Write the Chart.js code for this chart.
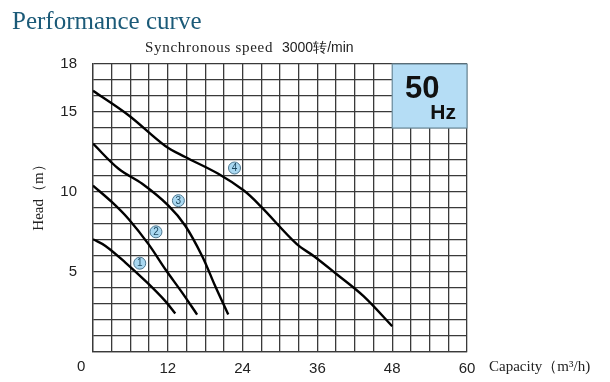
<!DOCTYPE html>
<html>
<head>
<meta charset="utf-8">
<script src="https://cdn.jsdelivr.net/npm/chart.js@4"></script>
<style>
  body { margin: 0; background: #fff; }
  canvas { display: block; }
</style>
</head>
<body>
<canvas id="perfChart" width="610" height="382"></canvas>
<script>
// capacity (m3/h) and head (m)
var q1 = [0, 2, 5.2, 8.7, 11.6, 13.2]
var h1 = [7.05, 6.63, 5.59, 4.33, 3.18, 2.41]
var q2 = [0, 3.05, 5.7, 8.9, 11.6, 14.3, 16.7]
var h2 = [10.4, 9.36, 8.31, 6.74, 5.17, 3.71, 2.34]
var q3 = [0, 4.1, 7.9, 12.1, 14.8, 17.5, 19.6, 21.7]
var h3 = [13.02, 11.45, 10.51, 9.15, 7.89, 6.0, 4.12, 2.34]
var q4 = [0, 5.7, 11.6, 14.8, 20.1, 24.2, 26.8, 32.7, 35.4, 39.1, 43.4, 48.0]
var h4 = [16.33, 14.8, 12.88, 12.19, 11.14, 10.09, 9.15, 6.74, 6.0, 4.86, 3.49, 1.61]

// circled curve numbers
var markQ = [7.5, 10.1, 13.7, 22.7]
var markH = [5.55, 7.51, 9.46, 11.5]
var markText = ['1', '2', '3', '4']

var xLabels = [12, 24, 36, 48, 60]
var yLabels = [5, 10, 15, 18]

function pts(xs, ys){
    var result = []
    for(var i = 0; i < xs.length; i++){
        result.push({x: xs[i], y: ys[i]})
    }
    return result
}

function curve(xs, ys){
    return {
        data: pts(xs, ys),
        showLine: true,
        borderColor: '#000',
        borderWidth: 2.4,
        pointRadius: 0,
        tension: 0.35,
        fill: false
    }
}

var gridColor = '#3a3a3a'
var serif = '"Liberation Serif", "DejaVu Serif", serif'
var sans = '"Liberation Sans", Arial, sans-serif'

var decor = {
    id: 'decor',
    beforeDatasetsDraw: function(chart){
        var c = chart.ctx, x = chart.scales.x, y = chart.scales.y
        var l = x.getPixelForValue(48), r = x.getPixelForValue(60)
        var t = y.getPixelForValue(18), b = y.getPixelForValue(14)
        c.save()
        c.fillStyle = '#b5ddf5'
        c.fillRect(l, t, r - l, b - t)
        c.strokeStyle = '#6f8fa0'
        c.lineWidth = 1.2
        c.strokeRect(l, t, r - l, b - t)
        c.fillStyle = '#111'
        c.textAlign = 'center'
        c.textBaseline = 'middle'
        c.font = 'bold 31px ' + sans
        c.fillText('50', l + 30, t + 25)
        c.font = 'bold 21px ' + sans
        c.fillText('Hz', l + 51, t + 49)
        c.restore()
    },
    afterDatasetsDraw: function(chart){
        var c = chart.ctx
        var meta = chart.getDatasetMeta(4)
        c.save()
        c.fillStyle = '#1d4860'
        c.font = '10px ' + sans
        c.textAlign = 'center'
        c.textBaseline = 'middle'
        meta.data.forEach(function(p, i){
            c.fillText(markText[i], p.x, p.y + 0.5)
        })
        c.restore()
    },
    afterDraw: function(chart){
        var c = chart.ctx
        c.save()
        c.textBaseline = 'middle'
        c.fillStyle = '#1b5a78'
        c.font = '25px ' + serif
        c.fillText('Performance curve', 12, 22)
        c.fillStyle = '#222'
        c.font = '15px ' + serif
        c.letterSpacing = '0.7px'
        c.fillText('Synchronous speed', 145, 48)
        c.letterSpacing = '0px'
        c.font = '14px ' + sans
        c.fillText('3000转/min', 282, 48)
        c.font = '15px ' + serif
        c.fillText('Capacity\uFF08m\u00B3/h)', 489, 367)
        c.font = '15px ' + sans
        c.fillText('0', 77, 367)
        c.translate(39, 194)
        c.rotate(-Math.PI / 2)
        c.textAlign = 'center'
        c.font = '15px ' + serif
        c.fillText('Head\uFF08m\uFF09', 0, 0)
        c.restore()
    }
}

var ctx = document.getElementById('perfChart').getContext('2d')
var perfChart = new Chart(ctx, {
    type: 'scatter',
    data: {
        datasets: [
            curve(q1, h1),
            curve(q2, h2),
            curve(q3, h3),
            curve(q4, h4),
            {
                data: pts(markQ, markH),
                pointRadius: 6,
                pointBackgroundColor: '#a9d8f1',
                pointBorderColor: '#4f7890',
                pointBorderWidth: 1
            }
        ]
    },
    options: {
        responsive: false,
        devicePixelRatio: 1,
        animation: false,
        layout: { padding: { left: 0, top: 64, right: 143, bottom: 0 } },
        plugins: {
            legend: { display: false },
            tooltip: { enabled: false }
        },
        scales: {
            x: {
                type: 'linear',
                min: 0,
                max: 60,
                grid: { color: gridColor, lineWidth: 1.3, drawTicks: false },
                border: { color: gridColor, width: 1.3 },
                ticks: {
                    stepSize: 3,
                    autoSkip: false,
                    maxRotation: 0,
                    padding: 8,
                    color: '#222',
                    font: { family: sans, size: 15 },
                    callback: function(v){ return xLabels.indexOf(v) >= 0 ? v : '' }
                },
                afterFit: function(s){ s.height = 30; s.paddingLeft = 0; s.paddingRight = 0 }
            },
            y: {
                min: 0,
                max: 18,
                grid: { color: gridColor, lineWidth: 1.3, drawTicks: false },
                border: { color: gridColor, width: 1.3 },
                ticks: {
                    stepSize: 1,
                    autoSkip: false,
                    padding: 16,
                    color: '#222',
                    font: { family: sans, size: 15 },
                    callback: function(v){ return yLabels.indexOf(v) >= 0 ? v : '' }
                },
                afterFit: function(s){ s.width = 93; s.paddingTop = 0; s.paddingBottom = 0 }
            }
        }
    },
    plugins: [decor]
})
</script>
</body>
</html>
